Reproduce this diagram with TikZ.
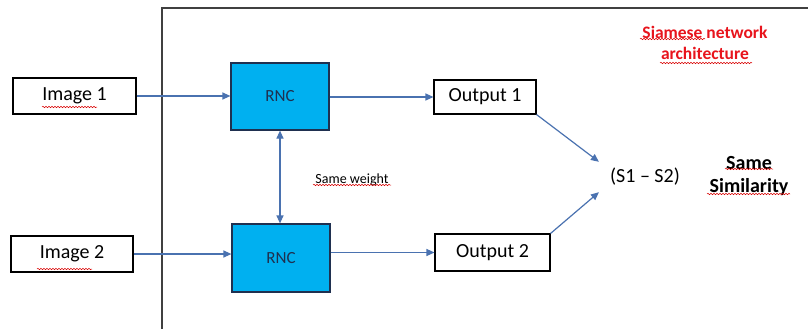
\documentclass[tikz,border=0pt]{standalone}
\usepackage{fontspec}
\setmainfont{Carlito}
\usetikzlibrary{arrows.meta,decorations.pathmorphing}
\definecolor{linkblue}{HTML}{4A72B0}
\definecolor{rncfill}{HTML}{00B0F0}
\definecolor{rncedge}{HTML}{1F3050}
\definecolor{framegray}{HTML}{404040}
\definecolor{titlered}{HTML}{E8141C}
\tikzset{
  x=1pt, y=-1pt,
  plainbox/.style={draw=black, line width=1.1pt, fill=white, inner sep=0pt, font=\fontsize{20}{24}\selectfont},
  netbox/.style={draw=rncedge, line width=1.2pt, fill=rncfill, inner sep=0pt, minimum width=98pt, text=rncedge, font=\fontsize{17}{20}\selectfont},
  link/.style={draw=linkblue, line width=1.2pt, -{Triangle[length=8pt,width=7pt]}},
  twolink/.style={draw=linkblue, line width=1.2pt, {Triangle[length=8pt,width=7pt]}-{Triangle[length=8pt,width=7pt]}},
  squiggle/.style={draw=red!85!black, line width=0.5pt, decorate, decoration={snake, segment length=3pt, amplitude=0.7pt}},
}
\begin{document}
\begin{tikzpicture}
\useasboundingbox (0,0) rectangle (808,329);
\fill[white] (0,0) rectangle (808,329);

% enclosing frame (left and top edges only)
\draw[framegray, line width=1.3pt] (162,329) |- (808,8);

% inputs
\node[plainbox, minimum width=123pt, minimum height=36pt] (img1) at (74.5,96) {Image 1};
\node[plainbox, minimum width=122pt, minimum height=36pt] (img2) at (72,254) {Image 2};

% twin networks
\node[netbox, minimum height=67pt] (rnc1) at (280,96.5) {RNC};
\node[netbox, minimum height=68pt] (rnc2) at (281,258) {RNC};

% outputs
\node[plainbox, minimum width=102pt, minimum height=34pt] (out1) at (485,97) {Output 1};
\node[plainbox, minimum width=115pt, minimum height=37pt] (out2) at (492.5,252.5) {Output 2};

% distance node
\node[inner xsep=11pt, inner ysep=0pt, minimum height=30pt, font=\fontsize{20}{24}\selectfont] (dist) at (645,177) {(S1 – S2)};

% labels
\node[font=\fontsize{14}{17}\selectfont] (sw) at (352,180) {Same weight};
\node[align=center, font=\bfseries\fontsize{20}{23}\selectfont] (sim) at (749,176) {Same\\Similarity};
\node[align=center, text=titlered, font=\bfseries\fontsize{17.5}{21}\selectfont] (title) at (705,43) {Siamese network\\architecture};

% connectors
\draw[link] (img1.east) -- (img1.east -| rnc1.west);
\draw[link] (img2.east) -- (img2.east -| rnc2.west);
\draw[link] (rnc1.east |- out1.west) -- (out1.west);
\draw[link] (rnc2.east |- out2.west) -- (out2.west);
\draw[twolink] (rnc1.south) -- (rnc1.south |- rnc2.north);
\draw[link] (out1.south east) -- (dist.north west);
\draw[link] (out2.north east) -- (dist.south west);

% spell-check underlines
\draw[squiggle] (42,107) -- (97,107);
\draw[squiggle] (37,269) -- (92,269);
\draw[squiggle] (313,185) -- (391,185);
\draw[squiggle] (725,169) -- (773,169);
\draw[squiggle] (707,194) -- (790,194);
\draw[squiggle] (640,39) -- (705,39);
\draw[squiggle] (660,63) -- (752,63);
\end{tikzpicture}
\end{document}
